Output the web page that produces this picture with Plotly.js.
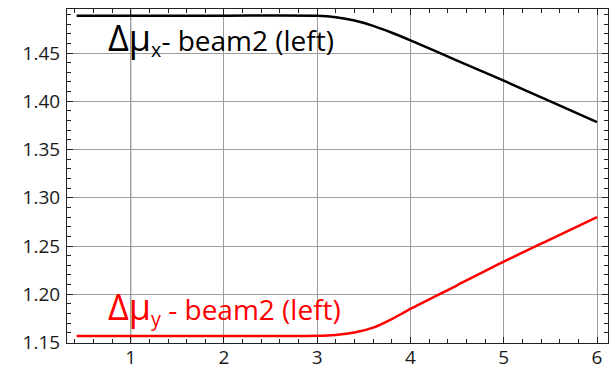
<!DOCTYPE html>
<html>
<head>
<meta charset="utf-8">
<script src="https://cdn.plot.ly/plotly-3.0.1.min.js"></script>
<style>
  html, body { margin: 0; padding: 0; background: #fff; }
  #chart { width: 610px; height: 371px; }
</style>
</head>
<body>
<div id="chart"></div>
<script>
// values
var xs = [0.42, 1, 2, 3, 3.2, 3.4, 3.6, 3.8, 4, 4.5, 5, 5.5, 6];
var muX = [1.4887, 1.4887, 1.4887, 1.4885, 1.4870, 1.4836, 1.4781, 1.4710, 1.4631, 1.4422, 1.4213, 1.3998, 1.3784];
var muY = [1.1567, 1.1567, 1.1567, 1.1569, 1.1579, 1.1603, 1.1654, 1.1743, 1.1848, 1.2093, 1.2338, 1.2570, 1.2800];
var xTicks = [1, 2, 3, 4, 5, 6];
var yTicks = [1.15, 1.20, 1.25, 1.30, 1.35, 1.40, 1.45];

var font = "Open Sans, sans-serif";

var data = [
  {
    x: xs, y: muX, type: "scatter", mode: "lines",
    line: { color: "#000", width: 2.5, shape: "spline", smoothing: 0.8 },
    hoverinfo: "skip"
  },
  {
    x: xs, y: muY, type: "scatter", mode: "lines",
    line: { color: "#ff0000", width: 2.5, shape: "spline", smoothing: 0.8 },
    hoverinfo: "skip"
  }
];

var axisCommon = {
  showline: true, linecolor: "#222", linewidth: 1, mirror: "allticks",
  ticks: "inside", ticklen: 6, tickcolor: "#222", tickwidth: 1,
  showgrid: true, gridcolor: "#9e9e9e", gridwidth: 1,
  zeroline: false,
  tickfont: { family: font, size: 19, color: "#1a1a1a" }
};

var layout = {
  width: 610, height: 371,
  margin: { l: 67, r: 2, t: 9, b: 28 },
  paper_bgcolor: "#fff", plot_bgcolor: "#fff",
  showlegend: false,
  xaxis: Object.assign({}, axisCommon, {
    range: [0.317, 6.118],
    tickmode: "array", tickvals: xTicks, ticktext: xTicks.map(String),
    ticklabelstandoff: -3,
    minor: { dtick: 0.2, tick0: 0, ticks: "inside", ticklen: 4, tickcolor: "#222", showgrid: false }
  }),
  yaxis: Object.assign({}, axisCommon, {
    range: [1.1495, 1.4956],
    tickmode: "array", tickvals: yTicks, ticktext: yTicks.map(function (v) { return v.toFixed(2); }),
    ticklabelstandoff: 2,
    minor: { dtick: 0.01, tick0: 0, ticks: "inside", ticklen: 4, tickcolor: "#222", showgrid: false }
  }),
  shapes: [
    { type: "line", xref: "x", yref: "paper", x0: 1, x1: 1, y0: 0, y1: 1,
      line: { color: "#222", width: 1 }, layer: "between" }
  ],
  annotations: [
    {
      xref: "x", yref: "y", x: 0.74, y: 1.4372, xanchor: "left", yanchor: "bottom",
      showarrow: false,
      font: { family: font, size: 28, color: "#000" },
      text: "<span style='font-size:36px'>Δμ</span><sub>x</sub>- beam2 (left)"
    },
    {
      xref: "x", yref: "y", x: 0.73, y: 1.1592, xanchor: "left", yanchor: "bottom",
      showarrow: false,
      font: { family: font, size: 28, color: "#ff0000" },
      text: "<span style='font-size:36px'>Δμ</span><sub>y</sub> - beam2 (left)"
    }
  ]
};

Plotly.newPlot("chart", data, layout, { displayModeBar: false, staticPlot: true });
</script>
</body>
</html>
